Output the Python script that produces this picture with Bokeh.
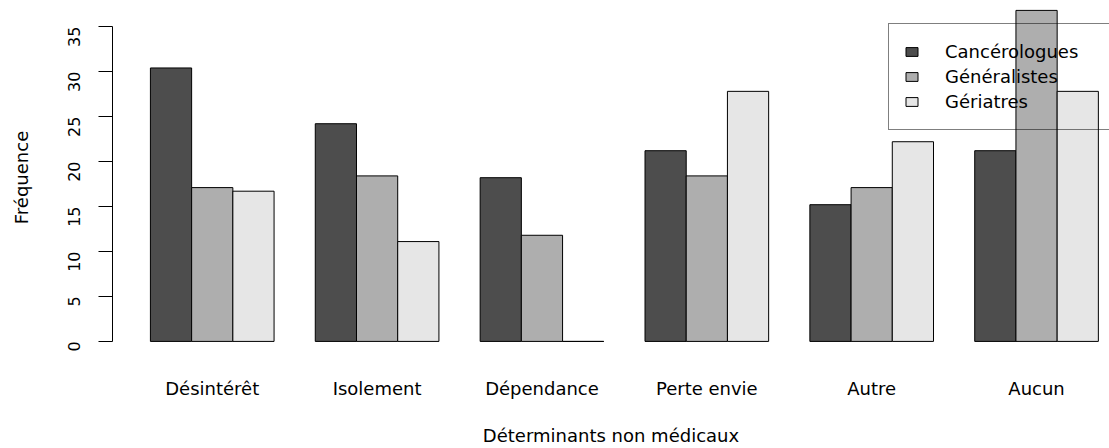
from bokeh.plotting import figure
from bokeh.models import Range1d, FixedTicker, Legend, LegendItem, ColumnDataSource
from bokeh.embed import file_html
from bokeh.resources import INLINE

categories = ["Désintérêt", "Isolement", "Dépendance", "Perte envie", "Autre", "Aucun"]
series_names = ["Cancérologues", "Généralistes", "Gériatres"]
cancerologues = [30.4, 24.2, 18.2, 21.2, 15.2, 21.2]
generalistes = [17.1, 18.4, 11.8, 18.4, 17.1, 36.8]
geriatres = [16.7, 11.1, 0.0, 27.8, 22.2, 27.8]
y_ticks = [0, 5, 10, 15, 20, 25, 30, 35]
colors = ["#4D4D4D", "#AEAEAE", "#E6E6E6"]

FONT = "DejaVu Sans"

p = figure(width=1109, height=448, output_backend="svg", toolbar_location=None,
           x_range=Range1d(0.08, 24.27), y_range=Range1d(-1.455, 37.9),
           min_border_left=112, min_border_right=0, min_border_top=0, min_border_bottom=94)
p.outline_line_color = None
p.xgrid.visible = False
p.ygrid.visible = False

series = [cancerologues, generalistes, geriatres]
items = []
n = len(categories)
for j, (name, vals) in enumerate(zip(series_names, series)):
    xs = [1.5 + 4 * i + j for i in range(n)]
    src = ColumnDataSource(dict(x=xs, top=vals))
    r = p.vbar(x="x", top="top", bottom=0, width=1.0, source=src,
               fill_color=colors[j], line_color="black", line_width=1)
    items.append(LegendItem(label=name, renderers=[r]))

# y axis
ya = p.yaxis[0]
ya.ticker = FixedTicker(ticks=y_ticks)
ya.bounds = (0, 35)
ya.major_tick_in = 0
ya.major_tick_out = 14
ya.minor_tick_line_color = None
ya.minor_tick_out = 0
ya.axis_line_color = "black"
ya.major_tick_line_color = "black"
ya.major_label_orientation = 1.5707963
ya.major_label_standoff = 24
ya.major_label_text_font = FONT
ya.major_label_text_font_size = "16px"
ya.major_label_text_color = "black"
ya.axis_label = "Fréquence"
ya.axis_label_text_font = FONT
ya.axis_label_text_font_size = "18px"
ya.axis_label_text_font_style = "normal"
ya.axis_label_text_color = "black"
ya.axis_label_standoff = 28

# x axis
xa = p.xaxis[0]
xa.ticker = FixedTicker(ticks=[2.5 + 4 * i for i in range(n)])
xa.major_label_overrides = {2.5 + 4 * i: c for i, c in enumerate(categories)}
xa.axis_line_color = None
xa.major_tick_line_color = None
xa.minor_tick_line_color = None
xa.major_tick_out = 0
xa.major_tick_in = 0
xa.minor_tick_out = 0
xa.minor_tick_in = 0
xa.major_label_standoff = 23
xa.major_label_text_font = FONT
xa.major_label_text_font_size = "18px"
xa.major_label_text_color = "black"
xa.axis_label = "Déterminants non médicaux"
xa.axis_label_text_font = FONT
xa.axis_label_text_font_size = "18px"
xa.axis_label_text_font_style = "normal"
xa.axis_label_text_color = "black"
xa.axis_label_standoff = 23

legend = Legend(items=items, location=(776, 224))
legend.background_fill_alpha = 0
legend.border_line_color = "black"
legend.border_line_width = 1
legend.padding = 15
legend.spacing = 0
legend.margin = 0
legend.label_height = 25
legend.glyph_height = 11
legend.glyph_width = 15
legend.label_standoff = 26
legend.label_width = 200
legend.label_text_font = FONT
legend.label_text_font_size = "18px"
legend.label_text_color = "black"
p.add_layout(legend)

open("out.html", "w").write(file_html(p, INLINE))
